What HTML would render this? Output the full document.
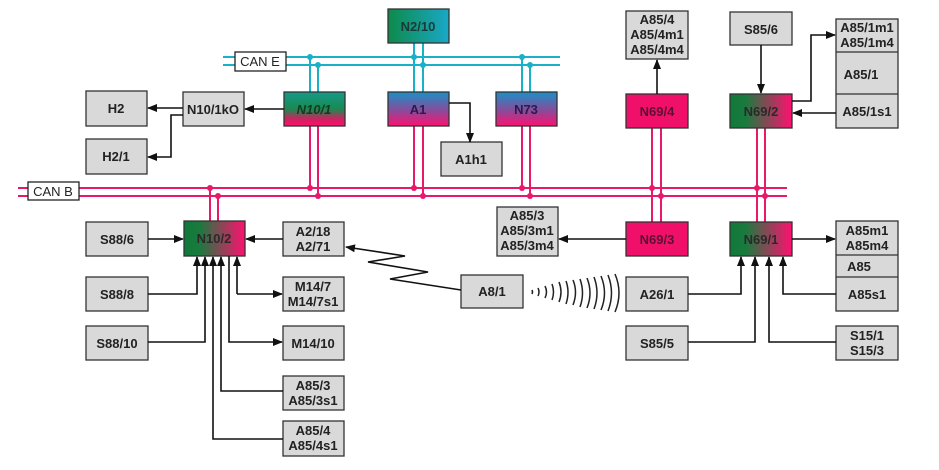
<!DOCTYPE html>
<html><head><meta charset="utf-8"><style>
html,body{margin:0;padding:0;background:#fff;}
svg{display:block;}
text{font-family:"Liberation Sans",sans-serif;font-weight:bold;font-size:13px;fill:#222;text-anchor:middle;}
.b{fill:#d9d9d9;stroke:#333;stroke-width:1.3;}
.l{stroke:#111;stroke-width:1.6;fill:none;}
.c{stroke:#1ab0c8;stroke-width:2;fill:none;}
.p{stroke:#e8186a;stroke-width:2;fill:none;}
</style></head><body>
<svg width="939" height="470" viewBox="0 0 939 470" xmlns="http://www.w3.org/2000/svg">
<defs>
<marker id="a" markerWidth="10" markerHeight="8" refX="9" refY="4" orient="auto" markerUnits="userSpaceOnUse"><path d="M0,0 L10,4 L0,8 Z" fill="#111"/></marker>
<linearGradient id="gN2" x1="0" x2="1" y1="0" y2="0"><stop offset="0" stop-color="#0e8a4a"/><stop offset="1" stop-color="#1aa8c8"/></linearGradient>
<linearGradient id="gN101" x1="0" x2="0" y1="0" y2="1"><stop offset="0" stop-color="#149a8a"/><stop offset="0.5" stop-color="#1a8a50"/><stop offset="0.8" stop-color="#d02060"/><stop offset="1" stop-color="#ff1070"/></linearGradient>
<linearGradient id="gA1" x1="0" x2="0" y1="0" y2="1"><stop offset="0" stop-color="#1a90c8"/><stop offset="0.55" stop-color="#8a4a98"/><stop offset="1" stop-color="#ff1070"/></linearGradient>
<linearGradient id="gGP" x1="0" x2="1" y1="0" y2="0"><stop offset="0" stop-color="#0e7a3a"/><stop offset="0.25" stop-color="#1a7a3e"/><stop offset="1" stop-color="#ff1070"/></linearGradient>
</defs>

<!-- CAN E -->
<line class="c" x1="223" y1="57" x2="560" y2="57"/>
<line class="c" x1="223" y1="65" x2="560" y2="65"/>
<rect x="235" y="52" width="51" height="19" fill="#fff" stroke="#222" stroke-width="1.3"/>
<text x="260" y="66" style="font-weight:normal;font-size:13px">CAN E</text>
<g class="c">
<line x1="310" y1="57" x2="310" y2="92"/><line x1="318" y1="65" x2="318" y2="92"/>
<line x1="414" y1="43" x2="414" y2="92"/><line x1="423" y1="43" x2="423" y2="92"/>
<line x1="522" y1="57" x2="522" y2="92"/><line x1="530" y1="65" x2="530" y2="92"/>
</g>
<g fill="#1ab0c8">
<circle cx="310" cy="57" r="3"/><circle cx="318" cy="65" r="3"/>
<circle cx="414" cy="57" r="3"/><circle cx="423" cy="65" r="3"/>
<circle cx="522" cy="57" r="3"/><circle cx="530" cy="65" r="3"/>
</g>

<!-- CAN B -->
<line class="p" x1="18" y1="188" x2="787" y2="188"/>
<line class="p" x1="18" y1="196" x2="787" y2="196"/>
<rect x="28" y="182" width="51" height="18" fill="#fff" stroke="#222" stroke-width="1.3"/>
<text x="53" y="196" style="font-weight:normal">CAN B</text>
<g class="p">
<line x1="310" y1="126" x2="310" y2="188"/><line x1="318" y1="126" x2="318" y2="196"/>
<line x1="414" y1="126" x2="414" y2="188"/><line x1="423" y1="126" x2="423" y2="196"/>
<line x1="522" y1="126" x2="522" y2="188"/><line x1="530" y1="126" x2="530" y2="196"/>
<line x1="210" y1="188" x2="210" y2="221"/><line x1="218" y1="196" x2="218" y2="221"/>
<line x1="652" y1="128" x2="652" y2="222"/><line x1="661" y1="128" x2="661" y2="222"/>
<line x1="757" y1="128" x2="757" y2="222"/><line x1="765" y1="128" x2="765" y2="222"/>
</g>
<g fill="#e8186a">
<circle cx="310" cy="188" r="3"/><circle cx="318" cy="196" r="3"/>
<circle cx="414" cy="188" r="3"/><circle cx="423" cy="196" r="3"/>
<circle cx="522" cy="188" r="3"/><circle cx="530" cy="196" r="3"/>
<circle cx="210" cy="188" r="3"/><circle cx="218" cy="196" r="3"/>
<circle cx="652" cy="188" r="3"/><circle cx="661" cy="196" r="3"/>
<circle cx="757" cy="188" r="3"/><circle cx="765" cy="196" r="3"/>
</g>

<!-- colored nodes -->
<rect x="388" y="9" width="61" height="34" fill="url(#gN2)" stroke="#333" stroke-width="1.3"/><text x="418" y="31" style="fill:#1a3a3a">N2/10</text>
<rect x="284" y="92" width="61" height="34" fill="url(#gN101)" stroke="#333" stroke-width="1.3"/><text x="314" y="114" style="fill:#123a22;font-style:italic">N10/1</text>
<rect x="388" y="92" width="61" height="34" fill="url(#gA1)" stroke="#333" stroke-width="1.3"/><text x="418" y="114" style="fill:#2a1a4a">A1</text>
<rect x="496" y="92" width="61" height="34" fill="url(#gA1)" stroke="#333" stroke-width="1.3"/><text x="526" y="114" style="fill:#2a1a4a">N73</text>
<rect x="626" y="94" width="62" height="34" fill="#f0106a" stroke="#333" stroke-width="1.3"/><text x="657" y="116" style="fill:#5a1030">N69/4</text>
<rect x="730" y="94" width="62" height="34" fill="url(#gGP)" stroke="#333" stroke-width="1.3"/><text x="761" y="116" style="fill:#2a2a2a">N69/2</text>
<rect x="626" y="222" width="62" height="34" fill="#f0106a" stroke="#333" stroke-width="1.3"/><text x="657" y="244" style="fill:#5a1030">N69/3</text>
<rect x="730" y="222" width="62" height="34" fill="url(#gGP)" stroke="#333" stroke-width="1.3"/><text x="761" y="244" style="fill:#2a2a2a">N69/1</text>
<rect x="184" y="221" width="61" height="35" fill="url(#gGP)" stroke="#333" stroke-width="1.3"/><text x="214" y="243" style="fill:#2a2a2a">N10/2</text>

<!-- grey boxes -->
<rect class="b" x="86" y="91" width="61" height="35"/><text x="116" y="113">H2</text>
<rect class="b" x="183" y="92" width="61" height="34"/><text x="213" y="114">N10/1kO</text>
<rect class="b" x="86" y="139" width="61" height="35"/><text x="116" y="161">H2/1</text>
<rect class="b" x="441" y="142" width="61" height="34"/><text x="471" y="164">A1h1</text>
<rect class="b" x="626" y="11" width="62" height="48"/><text x="657" y="24">A85/4</text><text x="657" y="39">A85/4m1</text><text x="657" y="54">A85/4m4</text>
<rect class="b" x="730" y="12" width="62" height="33"/><text x="761" y="34">S85/6</text>
<rect class="b" x="836" y="19" width="62" height="109"/>
<line x1="836" y1="52" x2="898" y2="52" stroke="#333" stroke-width="1.3"/><line x1="836" y1="94" x2="898" y2="94" stroke="#333" stroke-width="1.3"/>
<text x="867" y="32">A85/1m1</text><text x="867" y="47">A85/1m4</text><text x="861" y="79">A85/1</text><text x="867" y="116">A85/1s1</text>
<rect class="b" x="497" y="207" width="61" height="49"/><text x="527" y="220">A85/3</text><text x="527" y="235">A85/3m1</text><text x="527" y="250">A85/3m4</text>
<rect class="b" x="836" y="221" width="62" height="90"/>
<line x1="836" y1="255" x2="898" y2="255" stroke="#333" stroke-width="1.3"/><line x1="836" y1="277" x2="898" y2="277" stroke="#333" stroke-width="1.3"/>
<text x="867" y="235">A85m1</text><text x="867" y="250">A85m4</text><text x="859" y="271">A85</text><text x="867" y="299">A85s1</text>
<rect class="b" x="626" y="277" width="62" height="34"/><text x="657" y="299">A26/1</text>
<rect class="b" x="626" y="326" width="62" height="34"/><text x="657" y="348">S85/5</text>
<rect class="b" x="836" y="326" width="62" height="34"/><text x="867" y="340">S15/1</text><text x="867" y="355">S15/3</text>
<rect class="b" x="461" y="275" width="62" height="33"/><text x="492" y="296">A8/1</text>
<rect class="b" x="86" y="222" width="62" height="34"/><text x="117" y="244">S88/6</text>
<rect class="b" x="86" y="277" width="62" height="34"/><text x="117" y="299">S88/8</text>
<rect class="b" x="86" y="326" width="62" height="34"/><text x="117" y="348">S88/10</text>
<rect class="b" x="283" y="222" width="61" height="34"/><text x="313" y="236">A2/18</text><text x="313" y="251">A2/71</text>
<rect class="b" x="283" y="277" width="61" height="34"/><text x="313" y="291">M14/7</text><text x="313" y="306">M14/7s1</text>
<rect class="b" x="283" y="326" width="61" height="34"/><text x="313" y="348">M14/10</text>
<rect class="b" x="283" y="376" width="61" height="34"/><text x="313" y="390">A85/3</text><text x="313" y="405">A85/3s1</text>
<rect class="b" x="283" y="421" width="61" height="35"/><text x="313" y="435">A85/4</text><text x="313" y="450">A85/4s1</text>

<!-- arrows -->
<g class="l" marker-end="url(#a)">
<path d="M284,109 H245"/>
<path d="M183,108 H148"/>
<path d="M183,115 H171 V157 H148"/>
<path d="M449,103 H470 V142"/>
<path d="M657,94 V60"/>
<path d="M761,45 V93"/>
<path d="M792,101 H811 V35 H835"/>
<path d="M836,113 H793"/>
<path d="M626,239 H559"/>
<path d="M792,239 H835"/>
<path d="M688,294 H741 V257"/>
<path d="M688,342 H755 V257"/>
<path d="M836,342 H769 V257"/>
<path d="M836,294 H783 V257"/>
<path d="M148,239 H183"/>
<path d="M148,294 H197 V257"/>
<path d="M148,342 H205 V257"/>
<path d="M283,439 H213 V257"/>
<path d="M283,391 H221 V257"/>
<path d="M283,239 H246"/>
<path d="M229,256 V342 H282"/>
<path d="M237,294 H282"/>
<path d="M237,294 V257"/>
<path d="M461,290 L390,279 L428,272 L368,262 L405,256 L346,247"/>
</g>
<!-- waves -->
<g stroke="#222" stroke-width="1.5" fill="none">
<path d="M532,290 q1,2 0,4"/>
<path d="M538,288 q2,4 0,8"/>
<path d="M545,286 q3,6 0,12"/>
<path d="M552,284 q3,8 0,16"/>
<path d="M559,282 q4,10 0,20"/>
<path d="M566,281 q4,11 0,23"/>
<path d="M573,280 q5,12 0,25"/>
<path d="M580,279 q5,14 0,28"/>
<path d="M587,278 q6,15 0,30"/>
<path d="M594,277 q6,16 0,32"/>
<path d="M601,276 q7,17 0,34"/>
<path d="M608,275 q7,18 0,36"/>
<path d="M615,274 q8,19 0,38"/>
</g>
</svg>
</body></html>
